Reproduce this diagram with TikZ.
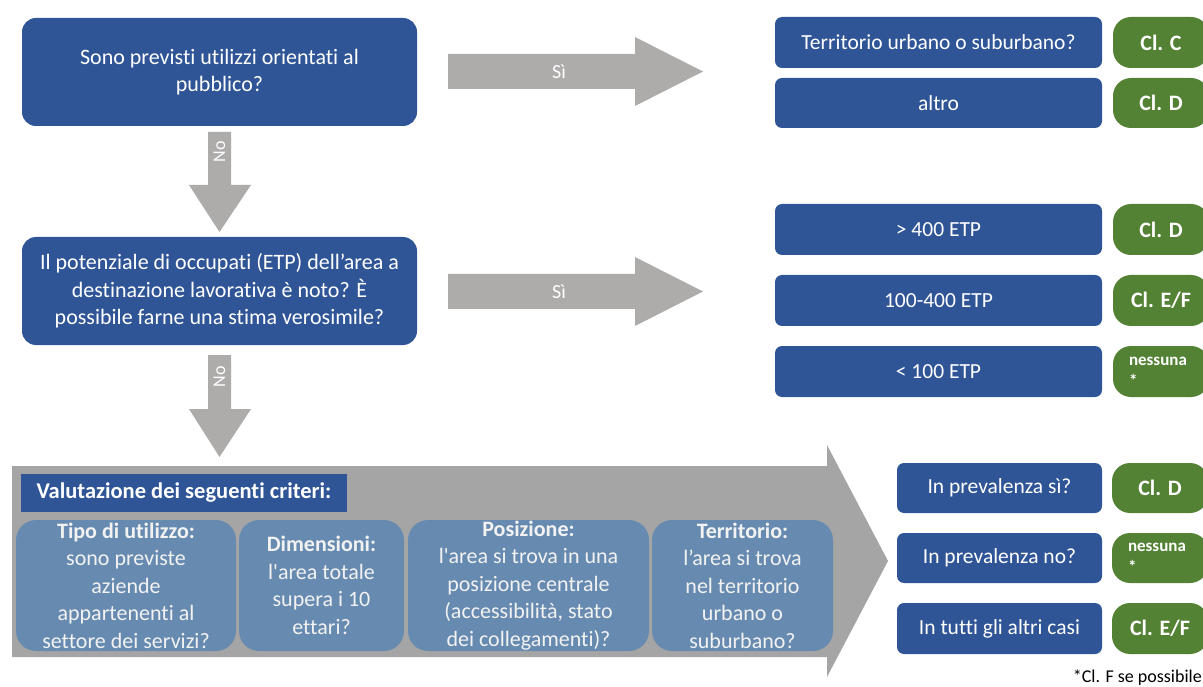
\documentclass[tikz,border=0pt]{standalone}
\usepackage{fontspec}
\setmainfont{Carlito}[Ligatures={TeXOff,CommonOff}]
\definecolor{qblue}{HTML}{2F5597}
\definecolor{qgreen}{HTML}{548235}
\definecolor{agray}{HTML}{AEABAB}
\definecolor{bgray}{HTML}{A5A5A5}
\definecolor{lblue}{HTML}{678BB0}
\definecolor{ltext}{HTML}{F2F2F2}
\begin{document}
\begin{tikzpicture}[x=1pt,y=-1pt,
  qbox/.style={fill=qblue, text=white, rounded corners=14pt, align=center, inner sep=0pt,
    minimum width=395pt, minimum height=108pt, font=\fontsize{22}{27.5}\selectfont},
  rbox/.style={fill=qblue, text=white, rounded corners=7pt, inner sep=0pt,
    minimum height=51pt, font=\fontsize{21.5}{26}\selectfont},
  gtag/.style={fill=qgreen, text=white, rounded corners=18pt, inner sep=0pt,
    minimum width=96pt, minimum height=51pt, font=\bfseries\fontsize{22}{26}\selectfont},
  ntag/.style={gtag, align=left, text width=64pt, font=\bfseries\fontsize{17}{21}\selectfont},
  crit/.style={fill=lblue, text=ltext, rounded corners=20pt, inner sep=0pt, align=center,
    minimum height=131pt, font=\fontsize{22}{27.5}\selectfont},
  blockarrow/.style={fill=agray},
  alabel/.style={text=white, font=\fontsize{20}{22}\selectfont, inner sep=0pt},
  nlabel/.style={text=white, font=\fontsize{18}{20}\selectfont, inner sep=0pt, rotate=90}
]
\useasboundingbox (0,0) rectangle (1203,687);
\clip (0,0) rectangle (1203,687);

% left question boxes
\node[qbox] (q1) at (219.5,72) {Sono previsti utilizzi orientati al\\pubblico?};
\node[qbox] (q2) at (219.5,291) {Il potenziale di occupati (ETP) dell’area a\\destinazione lavorativa è noto? È\\possibile farne una stima verosimile?};

% Sì arrows
\fill[blockarrow] (448,54) -- (635,54) -- (635,37) -- (703,71.5) -- (635,106) -- (635,89) -- (448,89) -- cycle;
\node[alabel] (s1) at (559,72) {Sì};
\fill[blockarrow] (448,274) -- (635,274) -- (635,257) -- (703,291.5) -- (635,326) -- (635,309) -- (448,309) -- cycle;
\node[alabel] (s2) at (559,292) {Sì};

% No arrows
\fill[blockarrow] (208,132) -- (231,132) -- (231,185) -- (251,185) -- (219.5,232) -- (189,185) -- (208,185) -- cycle;
\node[nlabel] (n1) at (219.5,152) {No};
\fill[blockarrow] (208,355) -- (231,355) -- (231,409) -- (251,409) -- (219.5,457) -- (189,409) -- (208,409) -- cycle;
\node[nlabel] (n2) at (219.5,377) {No};

% top right
\node[rbox, minimum width=327pt] (r1) at (938.5,42.5) {Territorio urbano o suburbano?};
\node[rbox, minimum width=327pt, minimum height=50pt] (r2) at (938.5,103) {altro};
\node[gtag] (g1) at (1161,42.5) {Cl. C};
\node[gtag, minimum height=50pt] (g2) at (1161,103) {Cl. D};

% middle right
\node[rbox, minimum width=327pt] (r3) at (938.5,229.5) {> 400 ETP};
\node[rbox, minimum width=327pt] (r4) at (938.5,300.5) {100-400 ETP};
\node[rbox, minimum width=327pt] (r5) at (938.5,371.5) {< 100 ETP};
\node[gtag] (g3) at (1161,229.5) {Cl. D};
\node[gtag] (g4) at (1161,300.5) {Cl. E/F};
\node[ntag] (g5) at (1161,371.5) {nessuna\\{*}};

% big arrow
\fill[bgray] (12,466) -- (827,466) -- (827,445) -- (888,561) -- (827,677) -- (827,657) -- (12,657) -- cycle;
\node[fill=qblue, text=white, inner sep=0pt, minimum width=326pt, minimum height=38pt,
  font=\bfseries\fontsize{22.5}{26}\selectfont] (vt) at (184,493) {Valutazione dei seguenti criteri:};

\node[crit, minimum width=220pt] (c1) at (126,585.5) {\textbf{Tipo di utilizzo:}\\sono previste\\aziende\\appartenenti al\\settore dei servizi?};
\node[crit, minimum width=165pt] (c2) at (321.5,585.5) {\textbf{Dimensioni:}\\l'area totale\\supera i 10\\ettari?};
\node[crit, minimum width=241pt] (c3) at (528.5,585.5) {\textbf{Posizione:}\\l'area si trova in una\\posizione centrale\\(accessibilità, stato\\dei collegamenti)?};
\node[crit, minimum width=181pt] (c4) at (742.5,585.5) {\textbf{Territorio:}\\l’area si trova\\nel territorio\\urbano o\\suburbano?};

% bottom right
\node[rbox, minimum width=205pt, minimum height=50pt] (b1) at (999.5,488) {In prevalenza sì?};
\node[rbox, minimum width=205pt, minimum height=50pt] (b2) at (999.5,558) {In prevalenza no?};
\node[rbox, minimum width=205pt] (b3) at (999.5,628.5) {In tutti gli altri casi};
\node[gtag, minimum height=50pt] (h1) at (1160,488) {Cl. D};
\node[ntag, minimum height=50pt] (h2) at (1160,558) {nessuna\\{*}};
\node[gtag] (h3) at (1160,628.5) {Cl. E/F};

\node[anchor=east, inner sep=0pt, font=\fontsize{18}{22}\selectfont] (fn) at (1202,678) {*Cl. F se possibile};
\end{tikzpicture}
\end{document}
